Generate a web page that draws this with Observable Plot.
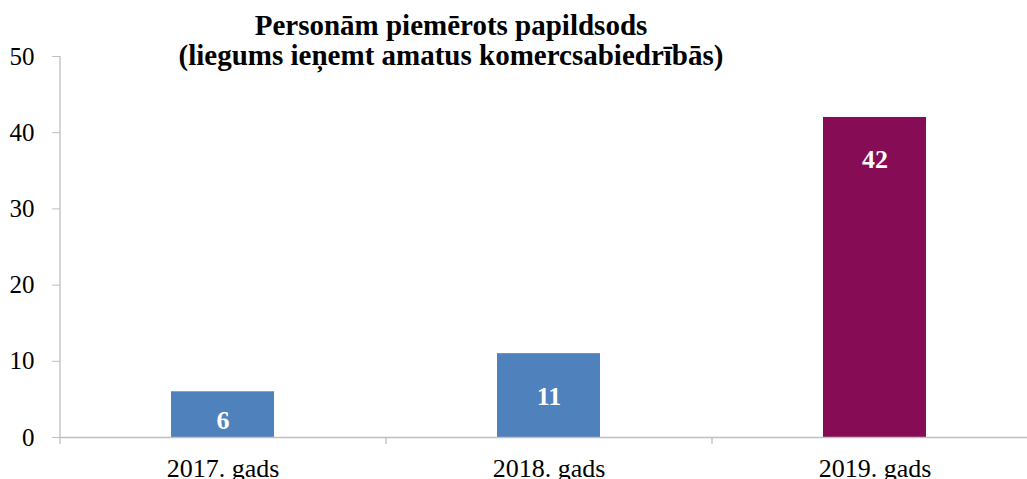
<!DOCTYPE html>
<html>
<head>
<meta charset="utf-8">
<script src="https://cdn.jsdelivr.net/npm/d3@7"></script>
<script src="https://cdn.jsdelivr.net/npm/@observablehq/plot@0.6"></script>
<style>
  html, body { margin: 0; padding: 0; background: #fff; overflow: hidden; }
  #wrap { position: relative; width: 1027px; height: 479px; }
  #title {
    position: absolute; left: 0; top: 11px; width: 902px;
    text-align: center; font-family: "Liberation Serif", "Times New Roman", "DejaVu Serif", serif;
    font-weight: bold; font-size: 29px; line-height: 29.5px; color: #000;
  }
</style>
</head>
<body>
<div id="wrap">
  <div id="chart"></div>
  <div id="title">Personām piemērots papildsods<br>(liegums ieņemt amatus komercsabiedrībās)</div>
</div>
<script>
const years = ["2017. gads", "2018. gads", "2019. gads"];
const values = [6, 11, 42];
const yTicks = [0, 10, 20, 30, 40, 50];

const data = years.map((year, i) => ({year, value: values[i]}));

const W = 1027, H = 479;
const xRange = [60, 1038];
const step = (xRange[1] - xRange[0]) / years.length;
const grey = "#bfbfbf";
const blue = "#4F81BD";
const purple = "#850C55";
const marginTop = 56, marginBottom = 42;
const pxPerUnit = (H - marginTop - marginBottom) / 50;
const tickLen = 7 / pxPerUnit;

const chart = Plot.plot({
  width: W,
  height: H,
  marginLeft: 60,
  marginRight: 0,
  marginTop,
  marginBottom,
  style: {fontFamily: "'Liberation Serif', 'Times New Roman', serif", background: "#fff", color: "#000"},
  x: {domain: years, range: xRange, paddingInner: 0.684, paddingOuter: 0.342, label: null},
  y: {domain: [0, 50], label: null},
  color: {domain: years, range: [blue, blue, purple]},
  marks: [
    Plot.barY(data, {x: "year", y: "value", fill: "year"}),
    Plot.ruleY([0], {stroke: grey, strokeWidth: 1.3}),
    Plot.ruleX(years, {x: d => d, dx: -step / 2, y1: -tickLen, y2: d => d === years[0] ? 50 : 0, stroke: grey, strokeWidth: 1.3}),
    Plot.axisY(yTicks, {tickSize: 8, tickPadding: 18, fontSize: 25, stroke: grey, fill: "#000", label: null}),
    Plot.axisX({tickSize: 0, tickPadding: 21, fontSize: 26, fill: "#000", label: null}),
    Plot.text(data, {
      x: "year",
      y: d => Math.max(d.value - 5.6, 2.25),
      text: d => String(d.value),
      fill: "#fff",
      fontWeight: "bold",
      fontSize: 26
    })
  ]
});
document.getElementById("chart").appendChild(chart);
</script>
</body>
</html>
